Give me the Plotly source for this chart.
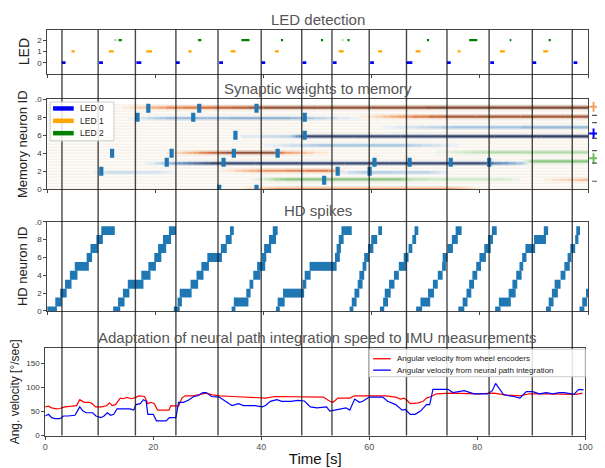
import plotly.graph_objects as go

# ---------------- data ----------------
vline_times = [3.1, 9.8, 16.7, 24.2, 32.0, 40.0, 47.5, 53.1, 60.0, 66.9, 74.4, 82.2, 90.2, 97.6]

led_names = ["LED 0", "LED 1", "LED 2"]
led0_start = [2.7, 9.6, 16.5, 23.8, 31.8, 39.6, 47.2, 52.8, 59.7, 66.4, 73.9, 81.9, 89.7, 97.3]
led0_end = [3.4, 10.3, 17.4, 24.5, 32.5, 40.3, 47.9, 53.5, 60.4, 67.5, 74.6, 82.6, 90.4, 98.0]
led1_start = [4.5, 11.4, 18.3, 26.1, 33.9, 42.1, 53.9, 61.2, 68.1, 75.9, 83.7, 91.7]
led1_end = [5.1, 12.3, 19.4, 26.7, 34.8, 42.8, 54.8, 61.9, 69.0, 76.4, 84.6, 92.6]
led2_start = [13.2, 27.9, 35.9, 43.2, 50.6, 55.5, 70.2, 78.0, 85.5, 92.7]
led2_end = [13.8, 28.5, 37.4, 43.6, 51.0, 55.9, 70.6, 79.5, 85.8, 93.1]
led2_faint_start = [12.3, 54.4]
led2_faint_end = [12.9, 54.8]

# synaptic weights: neuron, LED, keypoint times, keypoint weights
w_neuron = [9, 8, 8, 7, 6, 5, 4, 4, 3, 3, 2, 2, 2, 1, 1, 0]
w_led = [1, 0, 1, 0, 0, 0, 1, 2, 0, 2, 0, 1, 0, 2, 1, 1]
w_t = [[14, 22, 40, 100], [15, 22, 45, 58], [58, 66, 75, 100], [62, 75, 100],
       [34, 45, 48, 100], [40, 50, 66, 76], [22, 28, 33, 42, 44, 52], [72, 82, 100],
       [18, 24, 30, 80, 88, 89], [88, 90, 100], [8, 12, 20, 24], [32, 40, 52, 55],
       [53, 58, 70, 75], [38, 44, 65, 68, 84, 88], [92, 100], [36, 42, 75, 80]]
w_w = [[0, 0.5, 0.85, 0.9], [0, 0.4, 0.45, 0], [0, 0.5, 0.8, 0.8], [0, 0.35, 0.4],
       [0, 0.3, 0.85, 0.9], [0, 0.35, 0.35, 0], [0, 0.5, 0.85, 0.85, 0.5, 0], [0, 0.35, 0.35],
       [0, 0.5, 0.85, 0.85, 0.3, 0], [0, 0.5, 0.5], [0, 0.2, 0.15, 0], [0, 0.5, 0.6, 0],
       [0, 0.3, 0.25, 0], [0, 0.5, 0.5, 0.25, 0.15, 0], [0, 0.35], [0, 0.45, 0.45, 0]]

mem_spike_t = [18.7, 28.1, 38.7, 16.7, 27.0, 47.6, 34.8, 47.6, 12.0, 23.0, 34.5, 42.6,
               22.1, 32.6, 60.5, 67.0, 74.6, 81.7, 10.0, 53.7, 59.6, 51.2, 31.8, 38.7]
mem_spike_id = [9, 9, 9, 8, 8, 8, 6, 6, 4, 4, 4, 4,
                3, 3, 3, 3, 3, 3, 2, 2, 2, 1, 0, 0]

# markers partly visible at the right edge of the weights panel
edge_cross_y = [9.15, 6.2, 3.45]
edge_cross_col = ["#f4a261", "blue", "#6cbf5c"]
edge_tick_y = [8.2, 7.4, 5.65, 4.3, 2.9, 0.9]

hd_start = [
    0, 1.5, 2.4, 3.3, 4.2, 5.1, 7.3, 8.0, 9.1, 10.0,
    12.2, 13.1, 14.0, 14.9, 17.4, 18.7, 19.8, 20.5, 21.4, 22.5,
    23.4, 24.1, 24.5, 26.5, 27.6, 28.5, 29.6, 32.1, 33.0, 33.8,
    34.1, 34.5, 36.8, 37.4, 38.1, 38.8, 39.7, 40.1, 41.0, 41.7,
    42.3, 42.6, 43.6, 47.2, 47.6, 48.5, 53.2, 53.5, 53.9, 54.4,
    55.9, 56.3, 56.8, 57.4, 57.7, 58.3, 58.6, 59.3, 59.9, 61.2,
    61.5, 62.1, 62.4, 63.2, 64.1, 65.0, 65.9, 66.8, 67.5, 67.9,
    68.2, 69.0, 70.4, 71.3, 72.2, 73.0, 73.1, 74.0, 74.8, 75.5,
    76.0, 76.8, 77.5, 78.0, 78.6, 79.3, 79.9, 80.8, 81.5, 82.2,
    82.8, 83.5, 85.3, 86.0, 86.7, 87.3, 87.8, 88.4, 90.0, 91.8,
    92.2, 92.7, 93.3, 93.8, 94.9, 95.6, 96.2, 96.7, 97.6, 97.8,
    98.4, 98.9, 99.6]
hd_end = [
    1.8, 2.7, 3.6, 4.5, 5.6, 7.7, 8.3, 9.4, 10.3, 12.5,
    13.5, 14.3, 15.2, 17.8, 19.1, 20.1, 21.1, 22.0, 22.9, 23.8,
    24.5, 24.9, 26.7, 27.9, 28.9, 29.9, 32.3, 33.2, 34.1, 34.5,
    34.8, 37.2, 37.6, 38.1, 39.4, 40.3, 40.5, 41.4, 42.3, 42.6,
    43.0, 43.9, 47.5, 47.9, 48.7, 53.5, 54.1, 54.3, 54.8, 56.3,
    56.6, 57.2, 57.7, 58.3, 58.6, 59.0, 59.5, 60.3, 61.0, 61.9,
    62.3, 63.0, 63.5, 64.2, 65.0, 66.4, 66.8, 67.5, 68.2, 68.6,
    69.3, 70.8, 71.5, 72.2, 73.1, 73.7, 74.0, 75.0, 75.9, 76.6,
    77.1, 77.7, 78.4, 78.9, 79.5, 80.2, 81.1, 82.0, 82.4, 83.1,
    83.8, 85.7, 86.6, 86.9, 87.7, 88.0, 88.6, 90.2, 92.2, 92.6,
    93.1, 93.6, 94.4, 94.9, 95.8, 96.6, 96.9, 97.6, 98.2, 98.5,
    99.3, 99.8, 100]
hd_id = [i % 10 for i in range(len(hd_start))]

vel_names = ["Angular velocity from wheel encoders", "Angular velocity from neural path integration"]
enc_t = [0, 0.6, 1.2, 2.1, 2.7, 3.7, 4.9, 5.8, 6.4, 7.2, 8.1, 8.7, 9.3, 10.5, 11.4, 11.9, 12.4,
         13.0, 13.9, 14.5, 15.1, 16.0, 16.9, 17.3, 18.4, 19.0, 19.6, 20.2, 20.8, 22.0, 22.9,
         23.3, 24.1, 24.7, 25.3, 25.9, 27.4, 29.2, 29.8, 31.0, 32.3, 34.7, 37.7, 40.2, 40.8,
         42.6, 46.8, 48.5, 50.3, 51.5, 52.7, 53.3, 54.2, 56.4, 57.3, 60.0, 63.1, 64.9, 65.8,
         66.4, 67.0, 67.6, 69.1, 70.0, 70.6, 71.5, 72.4, 75.2, 80.1, 83.1, 85.5, 87.9, 89.7,
         92.8, 95.2, 98.3, 99.5]
enc_v = [59.5, 60.8, 57.4, 55.4, 56.1, 59.5, 60.8, 62.1, 74.3, 68.9, 68.9, 66.2, 59.5, 59.5,
         62.2, 67.6, 62.0, 64.0, 77.7, 76.3, 79.0, 76.3, 79.7, 82.4, 81.0, 66.2, 68.9, 66.2,
         52.7, 52.7, 52.7, 62.2, 60.8, 60.8, 77.7, 82.4, 82.4, 86.6, 88.0, 84.5, 82.4, 81.0,
         79.7, 79.0, 77.7, 81.0, 81.0, 79.7, 79.7, 79.7, 71.0, 69.0, 77.7, 77.7, 82.4, 82.4,
         82.4, 79.7, 75.7, 77.7, 73.0, 66.2, 67.6, 71.0, 77.7, 81.0, 86.6, 88.0, 86.6, 88.0,
         83.9, 82.4, 86.6, 86.6, 86.6, 85.2, 88.0]

npi_t = [0, 0.6, 1.2, 1.8, 2.7, 3.4, 4.2, 4.9, 5.5, 6.4, 7.0, 7.6, 8.8, 9.4, 10.3, 10.9, 11.5,
         12.1, 12.7, 13.3, 15.7, 16.4, 16.8, 17.6, 18.2, 18.7, 19.0, 20.0, 20.6, 22.4, 23.0,
         24.2, 24.7, 25.6, 26.5, 27.5, 28.3, 29.2, 29.8, 30.8, 32.2, 34.0, 34.6, 35.8, 36.7,
         38.8, 40.2, 40.8, 41.7, 42.9, 43.8, 45.5, 46.8, 48.0, 49.1, 50.3, 52.1, 52.7, 53.9,
         55.7, 56.4, 57.3, 58.2, 58.8, 60.0, 62.5, 63.4, 64.9, 66.1, 66.7, 67.6, 68.5, 69.5,
         70.6, 71.2, 71.8, 74.6, 75.5, 77.6, 79.4, 81.9, 82.8, 83.4, 84.0, 84.9, 86.7, 87.9,
         89.1, 90.3, 91.5, 92.8, 94.0, 95.2, 96.1, 97.0, 97.9, 98.8, 99.7]
npi_v = [40.5, 44.0, 37.0, 35.0, 35.0, 40.5, 40.5, 40.5, 42.0, 59.5, 50.7, 47.3, 47.3, 40.5,
         37.0, 40.5, 47.3, 42.0, 44.0, 55.4, 55.4, 52.7, 64.2, 66.2, 74.3, 71.0, 44.0, 44.0,
         30.4, 30.4, 37.0, 37.0, 68.9, 68.9, 73.0, 81.0, 82.4, 89.1, 89.1, 81.0, 79.7, 66.2,
         62.2, 66.2, 62.2, 62.2, 59.5, 62.2, 71.0, 74.3, 71.0, 71.0, 73.0, 71.6, 59.5, 57.4,
         59.5, 50.7, 54.0, 57.4, 52.7, 75.7, 68.9, 71.0, 79.7, 79.7, 71.0, 64.2, 52.7, 54.0,
         44.0, 44.0, 50.7, 64.2, 64.2, 95.9, 95.9, 89.1, 93.0, 86.6, 86.6, 93.0, 108.0, 98.0,
         84.5, 81.0, 77.7, 91.0, 91.0, 86.6, 89.1, 86.6, 89.1, 89.1, 86.6, 85.2, 95.9, 94.6]

# ---------------- layout constants ----------------
W, H = 605, 468
def py(p):
    return 1 - p / H
def px(p):
    return p / W

top_xdom = [45 / W, 596 / W]
bot_xdom = [43 / W, 593 / W]
led_dom = [py(71), py(26)]
mem_dom = [py(189), py(97)]
hd_dom = [py(313), py(222)]
vel_dom = [py(440), py(351)]

LED_COLORS = ["blue", "orange", "green"]
VEL_COLORS = ["red", "blue"]
SPIKE = "#1f77b4"
FONT = "Liberation Sans, Arial, sans-serif"

fig = go.Figure()

# ---------------- LED detection panel ----------------
def seg_xy(starts, ends, level):
    xs, ys = [], []
    for a, b in zip(starts, ends):
        xs += [a, b, None]
        ys += [level, level, None]
    return xs, ys

for lvl, (s, e), wdt in [(0, (led0_start, led0_end), 2.8), (1, (led1_start, led1_end), 2.3),
                          (2, (led2_start, led2_end), 2.3)]:
    xs, ys = seg_xy(s, e, lvl)
    fig.add_trace(go.Scatter(x=xs, y=ys, mode="lines", line=dict(color=LED_COLORS[lvl], width=wdt),
                             xaxis="x", yaxis="y", showlegend=False, hoverinfo="skip"))
xs, ys = seg_xy(led2_faint_start, led2_faint_end, 2)
fig.add_trace(go.Scatter(x=xs, y=ys, mode="lines", line=dict(color="rgba(0,128,0,0.25)", width=2.3),
                         xaxis="x", yaxis="y", showlegend=False, hoverinfo="skip"))

# ---------------- Synaptic weights panel ----------------
bx, by = [], []
for k in range(10):
    for off in (-0.33, 0.0, 0.33):
        bx += [0, 100, None]
        by += [k + off, k + off, None]
fig.add_trace(go.Scatter(x=bx, y=by, mode="lines", line=dict(color="rgba(236,224,204,0.4)", width=2),
                         xaxis="x2", yaxis="y2", showlegend=False, hoverinfo="skip"))

ANCH = {
    0: [(0.0, (246, 248, 252)), (0.35, (165, 198, 226)), (0.6, (100, 138, 186)), (0.9, (50, 64, 104))],
    1: [(0.0, (253, 242, 230)), (0.4, (246, 176, 128)), (0.65, (218, 114, 64)), (0.9, (132, 76, 56))],
    2: [(0.0, (242, 248, 240)), (0.35, (178, 220, 168)), (0.6, (115, 184, 105)), (0.9, (62, 132, 62))],
}
LED_OFF = [-0.12, 0.06, 0.1]

def cmap(led, w):
    a = ANCH[led]
    if w <= a[0][0]:
        return a[0][1]
    for (w0, c0), (w1, c1) in zip(a[:-1], a[1:]):
        if w <= w1:
            f = (w - w0) / (w1 - w0)
            return tuple(int(round(c0[i] + f * (c1[i] - c0[i]))) for i in range(3))
    return a[-1][1]

groups = {}
NSUB = 6
for n, led, ts, ws in zip(w_neuron, w_led, w_t, w_w):
    yv = n + LED_OFF[led]
    for (t0, t1), (v0, v1) in zip(zip(ts[:-1], ts[1:]), zip(ws[:-1], ws[1:])):
        for j in range(NSUB):
            a = t0 + (t1 - t0) * j / NSUB
            b = t0 + (t1 - t0) * (j + 1) / NSUB
            wm = v0 + (v1 - v0) * (j + 0.5) / NSUB
            q = round(wm * 20) / 20
            if q <= 0:
                continue
            groups.setdefault((led, q), ([], []))
            groups[(led, q)][0].extend([a, b, None])
            groups[(led, q)][1].extend([yv, yv, None])

for (led, q), (xs, ys) in sorted(groups.items(), key=lambda kv: kv[0][1]):
    c = cmap(led, q)
    fig.add_trace(go.Scatter(x=xs, y=ys, mode="lines",
                             line=dict(color="rgba(%d,%d,%d,0.25)" % c, width=5),
                             xaxis="x2", yaxis="y2", showlegend=False, hoverinfo="skip"))
    fig.add_trace(go.Scatter(x=xs, y=ys, mode="lines",
                             line=dict(color="rgb(%d,%d,%d)" % c, width=2.2),
                             xaxis="x2", yaxis="y2", showlegend=False, hoverinfo="skip"))

# memory spikes as short vertical bars (drawn above the weight lines)
sx, sy = [], []
for t, k in zip(mem_spike_t, mem_spike_id):
    sx += [t, t, None]
    sy += [k - 0.5, k + 0.5, None]
fig.add_trace(go.Scatter(x=sx, y=sy, mode="lines", line=dict(color=SPIKE, width=4.2),
                         xaxis="x2", yaxis="y2", showlegend=False, hoverinfo="skip"))

# ---------------- HD spikes panel ----------------
fig.add_trace(go.Bar(y=hd_id, x=[b - a for a, b in zip(hd_start, hd_end)], base=hd_start,
                     orientation="h", width=1.0, marker=dict(color=SPIKE, line=dict(width=0)),
                     xaxis="x3", yaxis="y3", showlegend=False, hoverinfo="skip"))

# ---------------- velocity panel ----------------
fig.add_trace(go.Scatter(x=enc_t, y=enc_v, mode="lines", line=dict(color=VEL_COLORS[0], width=1.2),
                         name=vel_names[0], xaxis="x4", yaxis="y4", showlegend=False))
fig.add_trace(go.Scatter(x=npi_t, y=npi_v, mode="lines", line=dict(color=VEL_COLORS[1], width=1.2),
                         name=vel_names[1], xaxis="x4", yaxis="y4", showlegend=False))

# ---------------- shapes: event lines + legends + edge marks ----------------
shapes = []
for t in vline_times:
    shapes.append(dict(type="line", xref="x4", yref="paper", x0=t, x1=t,
                       y0=vel_dom[0], y1=led_dom[1], layer="above",
                       line=dict(color="rgba(25,25,25,0.8)", width=1.4)))

for yv, col in zip(edge_cross_y, edge_cross_col):
    shapes.append(dict(type="line", xref="paper", yref="y2", x0=px(597), x1=px(605),
                       y0=yv, y1=yv, line=dict(color=col, width=2)))
    shapes.append(dict(type="line", xref="paper", yref="y2", x0=px(601.5), x1=px(601.5),
                       y0=yv - 0.55, y1=yv + 0.55, line=dict(color=col, width=2)))
for yv in edge_tick_y:
    shapes.append(dict(type="line", xref="paper", yref="y2", x0=px(600), x1=px(605),
                       y0=yv, y1=yv, line=dict(color="#555", width=1.2)))

annotations = []
leg_font = dict(family=FONT, size=8.5, color="#222")

shapes.append(dict(type="rect", xref="paper", yref="paper", x0=px(48), x1=px(113),
                   y0=py(139.5), y1=py(100), fillcolor="rgba(255,255,255,0.85)",
                   line=dict(color="#cccccc", width=1), layer="above"))
for i, (name, col) in enumerate(zip(led_names, LED_COLORS)):
    yy = 106.5 + 12.6 * i
    shapes.append(dict(type="line", xref="paper", yref="paper", x0=px(51), x1=px(72),
                       y0=py(yy), y1=py(yy), line=dict(color=col, width=4.5), layer="above"))
    annotations.append(dict(text=name, x=px(76), y=py(yy), xref="paper", yref="paper",
                            xanchor="left", yanchor="middle", showarrow=False, font=leg_font))

shapes.append(dict(type="rect", xref="paper", yref="paper", x0=px(373), x1=px(593),
                   y0=py(380), y1=py(352), fillcolor="rgba(255,255,255,0.85)",
                   line=dict(color="#cccccc", width=1), layer="above"))
for i, (name, col) in enumerate(zip(vel_names, VEL_COLORS)):
    yy = 361.7 + 11.6 * i
    shapes.append(dict(type="line", xref="paper", yref="paper", x0=px(377), x1=px(395),
                       y0=py(yy), y1=py(yy), line=dict(color=col, width=1.3), layer="above"))
    annotations.append(dict(text=name, x=px(399), y=py(yy), xref="paper", yref="paper",
                            xanchor="left", yanchor="middle", showarrow=False,
                            font=dict(family=FONT, size=8, color="#222")))

# ---------------- axes ----------------
tick_font = dict(family=FONT, size=8, color="#333")
def xax(dom, anchor, labels):
    return dict(domain=dom, anchor=anchor, range=[0, 100], showgrid=False, zeroline=False,
                showline=True, mirror=True, linecolor="#444", linewidth=1,
                ticks="outside", ticklen=3, tickcolor="#444", tickvals=[0, 20, 40, 60, 80, 100],
                showticklabels=labels, tickfont=dict(family=FONT, size=9, color="#555"))

def yax(dom, anchor, rng, tv, tt, title, tsize=13):
    return dict(domain=dom, anchor=anchor, range=rng, showgrid=False, zeroline=False,
                showline=True, mirror=True, linecolor="#444", linewidth=1,
                ticks="outside", ticklen=3, tickcolor="#444", tickvals=tv, ticktext=tt,
                tickfont=tick_font,
                title=dict(text=title, font=dict(family=FONT, size=tsize, color="#222"), standoff=4))

fig.update_layout(
    width=W, height=H, margin=dict(l=0, r=0, t=0, b=0),
    paper_bgcolor="white", plot_bgcolor="white", barmode="overlay",
    font=dict(family=FONT), showlegend=False,
    xaxis=xax(top_xdom, "y", False),
    yaxis=yax(led_dom, "x", [-0.97, 2.95], [0, 1, 2], ["0", "1", "2"], "LED", 14),
    xaxis2=xax(top_xdom, "y2", False),
    yaxis2=yax(mem_dom, "x2", [0, 10], [0, 2, 4, 6, 8, 10], ["0", "2", "4", "6", "8", ".0"],
               "Memory neuron ID", 13),
    xaxis3=xax(top_xdom, "y3", False),
    yaxis3=yax(hd_dom, "x3", [0, 10], [0, 2, 4, 6, 8, 10], ["0", "2", "4", "6", "8", ".0"],
               "HD neuron ID", 13),
    xaxis4=dict(xax(bot_xdom, "y4", True),
                title=dict(text="Time [s]", font=dict(family=FONT, size=15, color="#111"), standoff=2)),
    yaxis4=yax(vel_dom, "x4", [0, 181], [0, 50, 100, 150], ["0", "50", "100", "150"],
               "Ang. velocity [°/sec]", 12),
    shapes=shapes,
)

title_font = dict(family=FONT, size=15, color="#555")
for txt, p in [("LED detection", 16), ("Synaptic weights to memory", 86), ("HD spikes", 211),
               ("Adaptation of neural path integration speed to IMU measurements", 340)]:
    annotations.append(dict(text=txt, x=(45 + 596) / 2 / W, y=py(p), xref="paper", yref="paper",
                            xanchor="center", yanchor="middle", showarrow=False, font=title_font))
fig.update_layout(annotations=annotations)

fig.write_html("out.html")
